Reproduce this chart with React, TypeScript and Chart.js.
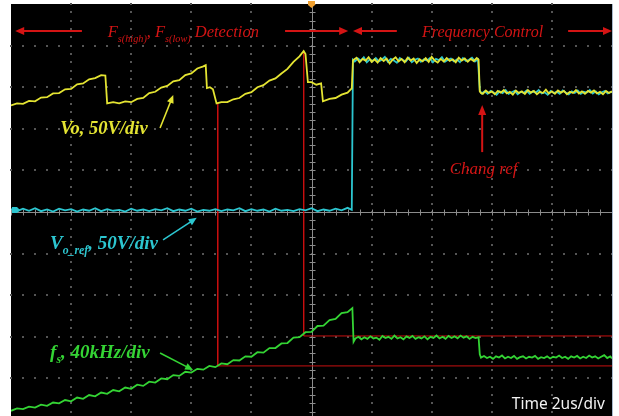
import React, { useEffect, useRef } from "react";
import { Chart, registerables } from "chart.js";

Chart.register(...registerables);

type P = [number, number];

// Screen divisions (time: 2us/div, 10 divisions; vertical: 10 divisions, centre = 0)
const timeDivisions = [0, 1, 2, 3, 4, 5, 6, 7, 8, 9, 10];
const verticalDivisions = [-5, -4, -3, -2, -1, 0, 1, 2, 3, 4, 5];

// Vo, 50V/div (yellow)
const voTrace: P[] = [
  [0.0, 2.56], [0.1, 2.61], [0.2, 2.6], [0.3, 2.67], [0.4, 2.66], [0.5, 2.75], [0.6, 2.76], [0.7, 2.85], [0.8, 2.86], [0.9, 2.95],
  [1.0, 2.96], [1.1, 3.07], [1.2, 3.09], [1.3, 3.19], [1.4, 3.22], [1.5, 3.29], [1.57, 3.28],
  [1.6, 2.61], [1.7, 2.64], [1.8, 2.61], [1.9, 2.66], [2.0, 2.64], [2.1, 2.72], [2.2, 2.74], [2.3, 2.86], [2.4, 2.89], [2.5, 2.99],
  [2.6, 3.03], [2.7, 3.14], [2.8, 3.17], [2.9, 3.29], [3.0, 3.33], [3.1, 3.45], [3.2, 3.5], [3.24, 3.53],
  [3.26, 2.98], [3.31, 3.0], [3.36, 2.95],
  [3.42, 2.61], [3.5, 2.64], [3.6, 2.64], [3.7, 2.71], [3.8, 2.74], [3.9, 2.84], [4.0, 2.88], [4.1, 3.0], [4.2, 3.05], [4.3, 3.16],
  [4.4, 3.21], [4.5, 3.33], [4.6, 3.44], [4.7, 3.61], [4.8, 3.74], [4.87, 3.87], [4.9, 3.8],
  [4.94, 3.12], [5.0, 3.12], [5.08, 3.06], [5.16, 3.09],
  [5.19, 2.66], [5.3, 2.72], [5.4, 2.74], [5.5, 2.82], [5.6, 2.87], [5.67, 2.97],
  [5.69, 3.65], [5.75, 3.71], [5.8, 3.6], [5.85, 3.68], [5.9, 3.64], [5.95, 3.72], [6.0, 3.61], [6.05, 3.67], [6.1, 3.59], [6.15, 3.7],
  [6.2, 3.63], [6.25, 3.69], [6.3, 3.57], [6.35, 3.66], [6.4, 3.72], [6.45, 3.62], [6.5, 3.68], [6.55, 3.6], [6.6, 3.71], [6.65, 3.64],
  [6.7, 3.69], [6.75, 3.58], [6.8, 3.67], [6.85, 3.62], [6.9, 3.7], [6.95, 3.61], [7.0, 3.73], [7.05, 3.64], [7.1, 3.59], [7.15, 3.68],
  [7.2, 3.62], [7.25, 3.7], [7.3, 3.63], [7.35, 3.67], [7.4, 3.6], [7.45, 3.71], [7.5, 3.64], [7.55, 3.69], [7.6, 3.61], [7.65, 3.68],
  [7.7, 3.63], [7.75, 3.7], [7.78, 3.66],
  [7.8, 2.9], [7.82, 2.86], [7.85, 2.84], [7.9, 2.92], [7.95, 2.86], [8.0, 2.9], [8.05, 2.83], [8.1, 2.91], [8.15, 2.87], [8.2, 2.93],
  [8.25, 2.85], [8.3, 2.89], [8.35, 2.82], [8.4, 2.92], [8.45, 2.86], [8.5, 2.9], [8.55, 2.84], [8.6, 2.93], [8.65, 2.87], [8.7, 2.91],
  [8.75, 2.83], [8.8, 2.89], [8.85, 2.86], [8.9, 2.94], [8.95, 2.85], [9.0, 2.9], [9.05, 2.84], [9.1, 2.92], [9.15, 2.87], [9.2, 2.91],
  [9.25, 2.83], [9.3, 2.89], [9.35, 2.86], [9.4, 2.93], [9.45, 2.85], [9.5, 2.9], [9.55, 2.84], [9.6, 2.91], [9.65, 2.87], [9.7, 2.92],
  [9.75, 2.85], [9.8, 2.89], [9.85, 2.83], [9.9, 2.91], [9.95, 2.86], [10.0, 2.9],
];

// Vo_ref, 50V/div (cyan)
const voRefTrace: P[] = [
  [0.0, 0.07], [0.1, 0.02], [0.2, 0.08], [0.3, 0.03], [0.4, 0.09], [0.5, 0.02], [0.6, 0.06], [0.7, 0.01], [0.8, 0.08], [0.9, 0.04],
  [1.0, 0.07], [1.1, 0.01], [1.2, 0.06], [1.3, 0.03], [1.4, 0.09], [1.5, 0.02], [1.6, 0.07], [1.7, 0.03], [1.8, 0.05], [1.9, 0.01],
  [2.0, 0.08], [2.1, 0.03], [2.2, 0.06], [2.3, 0.02], [2.4, 0.07], [2.5, 0.04], [2.6, 0.09], [2.7, 0.02], [2.8, 0.06], [2.9, 0.03],
  [3.0, 0.08], [3.1, 0.01], [3.2, 0.05], [3.3, 0.03], [3.4, 0.07], [3.5, 0.02], [3.6, 0.06], [3.7, 0.04], [3.8, 0.09], [3.9, 0.02],
  [4.0, 0.07], [4.1, 0.03], [4.2, 0.06], [4.3, 0.01], [4.4, 0.08], [4.5, 0.03], [4.6, 0.05], [4.7, 0.02], [4.8, 0.07], [4.9, 0.04],
  [5.0, 0.09], [5.1, 0.02], [5.2, 0.06], [5.3, 0.03], [5.4, 0.08], [5.5, 0.04], [5.6, 0.1], [5.67, 0.05],
  [5.69, 3.66], [5.72, 3.62], [5.77, 3.69], [5.82, 3.64], [5.87, 3.72], [5.92, 3.6], [5.97, 3.67], [6.02, 3.63], [6.07, 3.7], [6.12, 3.62],
  [6.17, 3.66], [6.22, 3.73], [6.27, 3.61], [6.32, 3.68], [6.37, 3.64], [6.42, 3.59], [6.47, 3.7], [6.52, 3.65], [6.57, 3.62], [6.62, 3.71],
  [6.67, 3.6], [6.72, 3.66], [6.77, 3.69], [6.82, 3.61], [6.87, 3.67], [6.92, 3.64], [6.97, 3.7], [7.02, 3.6], [7.07, 3.68], [7.12, 3.65],
  [7.17, 3.72], [7.22, 3.61], [7.27, 3.66], [7.32, 3.69], [7.37, 3.62], [7.42, 3.67], [7.47, 3.6], [7.52, 3.7], [7.57, 3.63], [7.62, 3.66],
  [7.67, 3.71], [7.72, 3.62], [7.77, 3.67],
  [7.8, 2.92], [7.83, 2.85], [7.88, 2.9], [7.93, 2.84], [7.98, 2.91], [8.03, 2.87], [8.08, 2.82], [8.13, 2.9], [8.18, 2.86], [8.23, 2.93],
  [8.28, 2.84], [8.33, 2.88], [8.38, 2.91], [8.43, 2.83], [8.48, 2.89], [8.53, 2.86], [8.58, 2.92], [8.63, 2.84], [8.68, 2.9], [8.73, 2.87],
  [8.78, 2.93], [8.83, 2.85], [8.88, 2.88], [8.93, 2.82], [8.98, 2.91], [9.03, 2.86], [9.08, 2.89], [9.13, 2.84], [9.18, 2.92], [9.23, 2.87],
  [9.28, 2.83], [9.33, 2.9], [9.38, 2.86], [9.43, 2.92], [9.48, 2.84], [9.53, 2.89], [9.58, 2.87], [9.63, 2.93], [9.68, 2.85], [9.73, 2.9],
  [9.78, 2.83], [9.83, 2.88], [9.88, 2.91], [9.93, 2.85], [9.98, 2.89], [10.0, 2.87],
];

// fs, 40kHz/div (green)
const fsTrace: P[] = [
  [0.0, -4.78], [0.1, -4.72], [0.2, -4.74], [0.3, -4.68], [0.4, -4.7], [0.5, -4.63], [0.6, -4.66], [0.7, -4.58], [0.8, -4.6], [0.9, -4.52],
  [1.0, -4.55], [1.1, -4.46], [1.2, -4.49], [1.3, -4.4], [1.4, -4.43], [1.5, -4.34], [1.6, -4.37], [1.7, -4.28], [1.8, -4.31], [1.9, -4.22],
  [2.0, -4.25], [2.1, -4.15], [2.2, -4.18], [2.3, -4.08], [2.4, -4.1], [2.5, -4.0], [2.6, -4.02], [2.7, -3.92], [2.8, -3.94], [2.9, -3.84],
  [3.0, -3.86], [3.1, -3.77], [3.2, -3.79], [3.3, -3.7], [3.4, -3.73], [3.5, -3.64], [3.6, -3.66], [3.7, -3.56], [3.8, -3.57], [3.9, -3.47],
  [4.0, -3.48], [4.1, -3.37], [4.2, -3.38], [4.3, -3.27], [4.4, -3.27], [4.5, -3.16], [4.6, -3.15], [4.7, -3.02], [4.8, -3.01], [4.9, -2.89],
  [5.0, -2.88], [5.1, -2.74], [5.2, -2.73], [5.3, -2.6], [5.4, -2.57], [5.5, -2.43], [5.6, -2.41], [5.68, -2.31],
  [5.7, -3.12], [5.73, -3.04], [5.78, -3.0], [5.83, -3.06], [5.88, -3.01], [5.93, -3.05], [5.98, -2.99], [6.03, -3.04], [6.08, -3.02], [6.13, -3.07],
  [6.18, -2.98], [6.23, -3.03], [6.28, -3.0], [6.33, -3.05], [6.38, -2.97], [6.43, -3.04], [6.48, -3.01], [6.53, -3.06], [6.58, -2.99], [6.63, -3.03],
  [6.68, -2.98], [6.73, -3.05], [6.78, -3.01], [6.83, -3.04], [6.88, -2.99], [6.93, -3.06], [6.98, -3.0], [7.03, -3.03], [7.08, -2.97], [7.13, -3.04],
  [7.18, -3.0], [7.23, -3.05], [7.28, -2.98], [7.33, -3.03], [7.38, -2.99], [7.43, -3.04], [7.48, -2.97], [7.53, -3.02], [7.58, -2.99], [7.63, -3.05],
  [7.68, -3.0], [7.73, -3.03], [7.78, -3.01],
  [7.8, -3.42], [7.82, -3.5], [7.87, -3.46], [7.92, -3.51], [7.97, -3.48], [8.02, -3.53], [8.07, -3.47], [8.12, -3.5], [8.17, -3.45], [8.22, -3.52],
  [8.27, -3.48], [8.32, -3.51], [8.37, -3.46], [8.42, -3.53], [8.47, -3.49], [8.52, -3.47], [8.57, -3.52], [8.62, -3.48], [8.67, -3.5], [8.72, -3.46],
  [8.77, -3.53], [8.82, -3.49], [8.87, -3.51], [8.92, -3.47], [8.97, -3.52], [9.02, -3.48], [9.07, -3.5], [9.12, -3.45], [9.17, -3.51], [9.22, -3.48],
  [9.27, -3.53], [9.32, -3.47], [9.37, -3.5], [9.42, -3.46], [9.47, -3.52], [9.52, -3.48], [9.57, -3.51], [9.62, -3.45], [9.67, -3.5], [9.72, -3.47],
  [9.77, -3.52], [9.82, -3.48], [9.87, -3.44], [9.92, -3.51], [9.97, -3.47], [10.0, -3.52],
];

// Red cursor lines linking Vo extrema to fs levels
const cursorLow: P[] = [[3.44, 2.62], [3.44, -3.7], [10, -3.7]];
const cursorHigh: P[] = [[4.87, 3.86], [4.87, -2.98], [10, -2.98]];

const toXY = (pts: P[]) => pts.map(([x, y]) => ({ x, y }));

const RED = "#d41414";
const YELLOW = "#e4e432";
const CYAN = "#2cc6d0";
const GREEN = "#34d434";

type Part = { t: string; sub?: boolean };

function drawRich(ctx: CanvasRenderingContext2D, x: number, y: number, parts: Part[], size: number, bold: boolean, color: string) {
  let cx = x;
  ctx.fillStyle = color;
  ctx.textBaseline = "alphabetic";
  ctx.textAlign = "left";
  for (const p of parts) {
    const s = p.sub ? size * 0.62 : size;
    ctx.font = `italic ${bold ? "bold " : ""}${s}px "Liberation Serif", "Times New Roman", serif`;
    ctx.fillText(p.t, cx, y + (p.sub ? size * 0.26 : 0));
    cx += ctx.measureText(p.t).width;
  }
}

function drawArrow(ctx: CanvasRenderingContext2D, x1: number, y1: number, x2: number, y2: number, color: string, w: number, hl: number, hw: number) {
  const a = Math.atan2(y2 - y1, x2 - x1);
  ctx.strokeStyle = color;
  ctx.fillStyle = color;
  ctx.lineWidth = w;
  ctx.beginPath();
  ctx.moveTo(x1, y1);
  ctx.lineTo(x2 - Math.cos(a) * hl * 0.8, y2 - Math.sin(a) * hl * 0.8);
  ctx.stroke();
  ctx.beginPath();
  ctx.moveTo(x2, y2);
  ctx.lineTo(x2 - Math.cos(a) * hl - Math.sin(a) * hw, y2 - Math.sin(a) * hl + Math.cos(a) * hw);
  ctx.lineTo(x2 - Math.cos(a) * hl + Math.sin(a) * hw, y2 - Math.sin(a) * hl - Math.cos(a) * hw);
  ctx.closePath();
  ctx.fill();
}

const scopePlugin = {
  id: "scope",
  beforeDatasetsDraw(chart: any) {
    const { ctx, chartArea: ca, scales } = chart;
    const xs = scales.x;
    const ys = scales.y;
    ctx.save();
    ctx.fillStyle = "#000";
    ctx.fillRect(ca.left, ca.top, ca.right - ca.left, ca.bottom - ca.top);
    // dotted graticule
    ctx.fillStyle = "#555555";
    for (const d of timeDivisions) {
      if (d === 0 || d === 10 || d === 5) continue;
      const px = Math.round(xs.getPixelForValue(d));
      for (let k = 0; k <= 50; k++) {
        const py = Math.round(ys.getPixelForValue(-5 + k * 0.2));
        ctx.fillRect(px - 1, py - 1, 2, 2);
      }
    }
    for (const d of verticalDivisions) {
      if (d === -5 || d === 5 || d === 0) continue;
      const py = Math.round(ys.getPixelForValue(d));
      for (let k = 0; k <= 50; k++) {
        const px = Math.round(xs.getPixelForValue(k * 0.2));
        ctx.fillRect(px - 1, py - 1, 2, 2);
      }
    }
    // centre axes with ticks
    ctx.strokeStyle = "#8c8c8c";
    ctx.lineWidth = 1;
    const cx = Math.round(xs.getPixelForValue(5)) + 0.5;
    const cy = Math.round(ys.getPixelForValue(0)) + 0.5;
    ctx.beginPath();
    ctx.moveTo(cx, ca.top);
    ctx.lineTo(cx, ca.bottom);
    ctx.moveTo(ca.left, cy);
    ctx.lineTo(ca.right, cy);
    for (let k = 0; k <= 50; k++) {
      const py = Math.round(ys.getPixelForValue(-5 + k * 0.2)) + 0.5;
      ctx.moveTo(cx - 3, py);
      ctx.lineTo(cx + 3, py);
      const px = Math.round(xs.getPixelForValue(k * 0.2)) + 0.5;
      ctx.moveTo(px, cy - 3);
      ctx.lineTo(px, cy + 3);
    }
    ctx.stroke();
    ctx.restore();
  },
  afterDatasetsDraw(chart: any) {
    const { ctx, chartArea: ca, scales } = chart;
    const X = (v: number) => scales.x.getPixelForValue(v);
    const Y = (v: number) => scales.y.getPixelForValue(v);
    ctx.save();

    // top annotations
    drawArrow(ctx, X(1.18), Y(4.35), X(0.07), Y(4.35), RED, 2, 9, 4);
    drawRich(ctx, X(1.61), Y(4.2), [
      { t: "F" }, { t: "s(high)", sub: true }, { t: ", F" }, { t: "s(low)", sub: true }, { t: " Detection" },
    ], 16.5, false, RED);
    drawArrow(ctx, X(4.56), Y(4.35), X(5.61), Y(4.35), RED, 2, 9, 4);
    drawArrow(ctx, X(6.42), Y(4.35), X(5.69), Y(4.35), RED, 2, 9, 4);
    drawRich(ctx, X(6.84), Y(4.2), [{ t: "Frequency Control" }], 16, false, RED);
    drawArrow(ctx, X(9.27), Y(4.35), X(10.0), Y(4.35), RED, 2, 9, 4);

    // Chang ref
    drawArrow(ctx, X(7.84), Y(1.44), X(7.84), Y(2.57), RED, 2, 10, 4);
    drawRich(ctx, X(7.3), Y(0.91), [{ t: "Chang ref" }], 17, false, RED);

    // trace labels
    drawRich(ctx, X(0.82), Y(1.87), [{ t: "Vo, 50V/div" }], 18.5, true, YELLOW);
    drawArrow(ctx, X(2.48), Y(2.02), X(2.7), Y(2.81), YELLOW, 1.6, 8, 3.5);

    drawRich(ctx, X(0.65), Y(-0.89), [{ t: "V" }, { t: "o_ref", sub: true }, { t: ", 50V/div" }], 19, true, CYAN);
    drawArrow(ctx, X(2.53), Y(-0.67), X(3.09), Y(-0.14), CYAN, 1.6, 8, 3.5);

    drawRich(ctx, X(0.65), Y(-3.51), [{ t: "f" }, { t: "s", sub: true }, { t: ", 40kHz/div" }], 19, true, GREEN);
    drawArrow(ctx, X(2.48), Y(-3.39), X(3.03), Y(-3.8), GREEN, 1.6, 8, 3.5);

    // time base
    ctx.fillStyle = "#f2f2f2";
    ctx.font = '15.5px "Noto Sans", "DejaVu Sans", sans-serif';
    ctx.textAlign = "right";
    ctx.textBaseline = "alphabetic";
    ctx.fillText("Time 2us/div", X(9.88), Y(-4.74));

    // channel marker (cyan) on left edge
    const my = Y(0.05);
    ctx.fillStyle = CYAN;
    ctx.beginPath();
    ctx.moveTo(ca.left + 1, my - 3);
    ctx.lineTo(ca.left + 6, my - 3);
    ctx.lineTo(ca.left + 9, my);
    ctx.lineTo(ca.left + 6, my + 3);
    ctx.lineTo(ca.left + 1, my + 3);
    ctx.closePath();
    ctx.fill();

    // trigger marker (orange) at top centre
    const tx = X(5);
    ctx.fillStyle = "#f0a030";
    ctx.beginPath();
    ctx.moveTo(tx - 3.5, ca.top - 3);
    ctx.lineTo(tx + 3.5, ca.top - 3);
    ctx.lineTo(tx + 3.5, ca.top + 1);
    ctx.lineTo(tx, ca.top + 4);
    ctx.lineTo(tx - 3.5, ca.top + 1);
    ctx.closePath();
    ctx.fill();

    // right frame edge
    ctx.strokeStyle = "#a9b9cc";
    ctx.lineWidth = 1;
    ctx.beginPath();
    ctx.moveTo(ca.right + 0.5, ca.top);
    ctx.lineTo(ca.right + 0.5, ca.bottom);
    ctx.stroke();
    ctx.restore();
  },
};

export default function App() {
  const ref = useRef<HTMLCanvasElement | null>(null);
  useEffect(() => {
    if (!ref.current) return;
    const line = (data: P[], color: string, width: number) => ({
      data: toXY(data),
      borderColor: color,
      backgroundColor: color,
      borderWidth: width,
      pointRadius: 0,
      tension: 0,
      fill: false,
    });
    const chart = new Chart(ref.current, {
      type: "line",
      data: {
        datasets: [
          { label: "Vo", ...line(voTrace, YELLOW, 1.8) },
          { label: "Vo_ref", ...line(voRefTrace, CYAN, 1.8) },
          { label: "fs", ...line(fsTrace, GREEN, 1.8) },
          { label: "cursor low", ...line(cursorLow, "#c81010", 1) },
          { label: "cursor high", ...line(cursorHigh, "#c81010", 1) },
        ],
      },
      options: {
        animation: false,
        responsive: false,
        maintainAspectRatio: false,
        layout: { padding: { left: 11, right: 7, top: 4, bottom: 0 } },
        plugins: { legend: { display: false }, tooltip: { enabled: false } },
        events: [],
        scales: {
          x: { type: "linear", min: 0, max: 10, display: false },
          y: { type: "linear", min: -5, max: 5, display: false },
        },
      },
      plugins: [scopePlugin],
    });
    return () => chart.destroy();
  }, []);
  return (
    <div style={{ position: "absolute", left: 0, top: 0, width: 619, height: 420, background: "#fff" }}>
      <canvas ref={ref} width={619} height={420} style={{ display: "block" }} />
    </div>
  );
}
